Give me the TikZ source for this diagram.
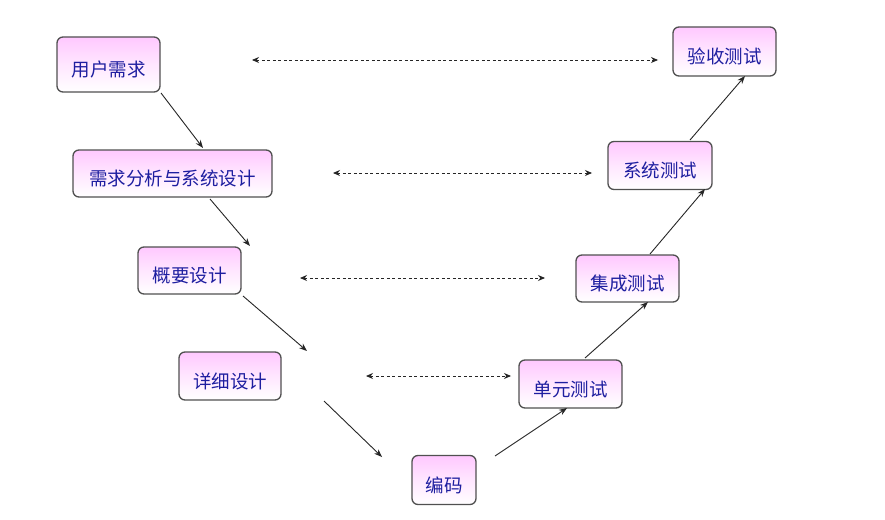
\documentclass[tikz,border=0pt]{standalone}
\usepackage{fontspec}
\newfontfamily\cjk{Noto Sans CJK SC}
\usetikzlibrary{arrows.meta}
\definecolor{txtblue}{HTML}{1E1EA0}
\definecolor{boxpink}{HTML}{FFC8FF}
\definecolor{boxedge}{HTML}{505050}
\newcommand{\lbl}[1]{\raisebox{-5pt}[\height][\depth]{#1}}
\tikzset{
  stagebox/.style={draw=boxedge, line width=1.3pt, rounded corners=6pt,
    top color=boxpink, bottom color=white, middle color=boxpink!45!white, text=txtblue,
    font=\cjk\fontsize{18.5}{20}\selectfont, inner sep=0pt, anchor=center},
  flow/.style={-{Stealth[length=8pt,width=6pt]}, line width=0.9pt, draw=black!85},
  link/.style={{Stealth[length=7pt,width=6pt]}-{Stealth[length=7pt,width=6pt]}, dashed, dash pattern=on 3pt off 2.5pt, line width=0.9pt, draw=black!85}
}
\begin{document}
\begin{tikzpicture}[x=1pt,y=-1pt]
\useasboundingbox[fill=white] (0,0) rectangle (885,519);
\node[stagebox, minimum width=103pt, minimum height=55pt] (req) at (108.5,64.5) {\lbl{用户需求}};
\node[stagebox, minimum width=199pt, minimum height=47pt] (ana) at (172.5,173.5) {\lbl{需求分析与系统设计}};
\node[stagebox, minimum width=103pt, minimum height=47pt] (out) at (189.5,270.5) {\lbl{概要设计}};
\node[stagebox, minimum width=102pt, minimum height=48pt] (det) at (230,376) {\lbl{详细设计}};
\node[stagebox, minimum width=64pt, minimum height=49pt] (cod) at (444,480) {\lbl{编码}};
\node[stagebox, minimum width=103pt, minimum height=48pt] (unit) at (570.5,384) {\lbl{单元测试}};
\node[stagebox, minimum width=103pt, minimum height=47pt] (int) at (627.5,278.5) {\lbl{集成测试}};
\node[stagebox, minimum width=104pt, minimum height=48pt] (sys) at (660,165.5) {\lbl{系统测试}};
\node[stagebox, minimum width=103pt, minimum height=49pt] (acc) at (724.5,51.5) {\lbl{验收测试}};

% free ends of the solid arrows
\coordinate (a1s) at (161,93);   \coordinate (a1e) at (203,148);
\coordinate (a2s) at (210,199);  \coordinate (a2e) at (250,246);
\coordinate (a3s) at (243,296);  \coordinate (a3e) at (307,351);
\coordinate (a4s) at (324,401);  \coordinate (a4e) at (382,457);
\coordinate (a5s) at (495,456);  \coordinate (a5e) at (567,408);
\coordinate (a6s) at (585,358);  \coordinate (a6e) at (648,302);
\coordinate (a7s) at (650,254);  \coordinate (a7e) at (705,189);
\coordinate (a8s) at (690,140);  \coordinate (a8e) at (745,76);
\draw[flow] (a1s) -- (a1e);
\draw[flow] (a2s) -- (a2e);
\draw[flow] (a3s) -- (a3e);
\draw[flow] (a4s) -- (a4e);
\draw[flow] (a5s) -- (a5e);
\draw[flow] (a6s) -- (a6e);
\draw[flow] (a7s) -- (a7e);
\draw[flow] (a8s) -- (a8e);

% dashed correspondences
\coordinate (d1s) at (252,60);  \coordinate (d1e) at (658,60);
\coordinate (d2s) at (333,173); \coordinate (d2e) at (592,173);
\coordinate (d3s) at (300,278); \coordinate (d3e) at (545,278);
\coordinate (d4s) at (366,376); \coordinate (d4e) at (511,376);
\draw[link] (d1s) -- (d1e);
\draw[link] (d2s) -- (d2e);
\draw[link] (d3s) -- (d3e);
\draw[link] (d4s) -- (d4e);
\end{tikzpicture}
\end{document}
